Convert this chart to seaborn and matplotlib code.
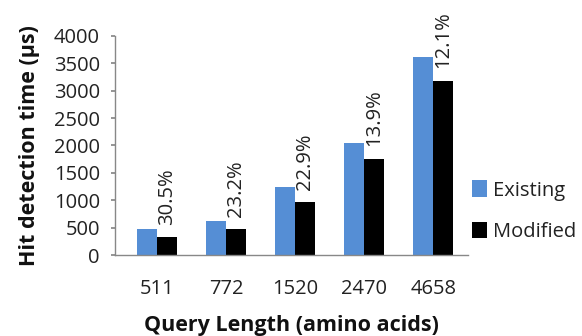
import matplotlib
matplotlib.use("Agg")
import matplotlib.pyplot as plt
import seaborn as sns
import pandas as pd

categories = ["511", "772", "1520", "2470", "4658"]
existing = [470, 620, 1250, 2050, 3620]
modified = [328, 475, 960, 1760, 3185]
reductions = ["30.5%", "23.2%", "22.9%", "13.9%", "12.1%"]
series = ["Existing", "Modified"]

df = pd.DataFrame({
    "Query": categories * 2,
    "Time": existing + modified,
    "Series": [series[0]] * len(categories) + [series[1]] * len(categories),
})

sns.set_theme(style="white")
plt.rcParams["font.family"] = ["Open Sans", "DejaVu Sans"]

fig = plt.figure(figsize=(5.82, 3.36), dpi=100)
ax = fig.add_axes([0.198, 0.241, 0.606, 0.652])

sns.barplot(data=df, x="Query", y="Time", hue="Series", order=categories,
            hue_order=series, palette=["#558ED5", "#000000"],
            width=0.58, ax=ax, saturation=1, edgecolor="none", linewidth=0)

mod_container = ax.containers[1]
for bar, lab in zip(mod_container, reductions):
    ax.annotate(lab, (bar.get_x() + bar.get_width() / 2, bar.get_height()),
                xytext=(0, 9), textcoords="offset points",
                rotation=90, ha="center", va="bottom", fontsize=14.5,
                color="#222222")

ax.set_ylim(0, 4000)
ax.set_yticks(range(0, 4001, 500))
ax.set_xlim(-0.6, 4.5)
ax.tick_params(axis="y", labelsize=14.5, length=3, direction="out",
               color="#888888", left=True, pad=8, labelcolor="#222222")
ax.tick_params(axis="x", labelsize=14.5, length=0, pad=17, labelcolor="#222222")
for s in ["top", "right"]:
    ax.spines[s].set_visible(False)
for s in ["left", "bottom"]:
    ax.spines[s].set_color("#888888")
    ax.spines[s].set_linewidth(1)

ax.set_xlabel("Query Length (amino acids)", fontsize=15.5, fontweight="bold",
              labelpad=12, color="#111111")
ax.set_ylabel("Hit detection time (µs)", fontsize=15.5, fontweight="bold",
              labelpad=10, color="#111111")

leg = ax.legend(loc="center left", bbox_to_anchor=(0.99, 0.2), frameon=False,
                fontsize=14.5, handlelength=0.7, handleheight=0.9,
                handletextpad=0.3, labelspacing=1.05, borderaxespad=0.0)
for t in leg.get_texts():
    t.set_color("#222222")

fig.savefig("out.png", dpi=100)
